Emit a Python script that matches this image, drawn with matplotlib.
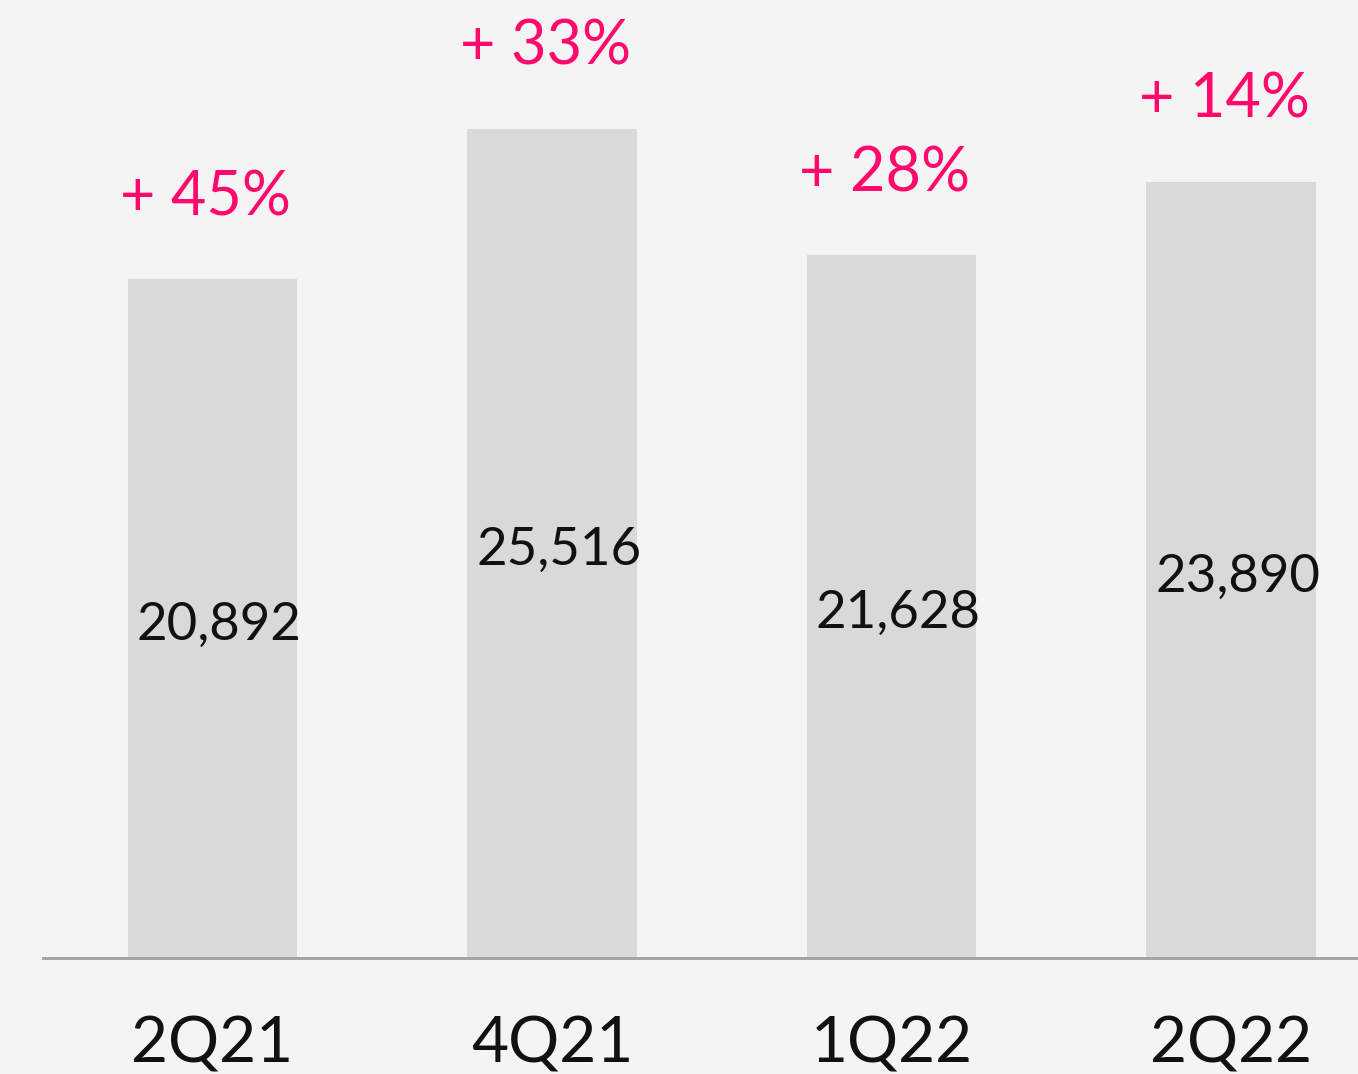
import matplotlib
matplotlib.use("Agg")
import matplotlib.pyplot as plt

# ── Data ─────────────────────────────────────────────────────────────────────
quarters = ["2Q21", "4Q21", "1Q22", "2Q22"]
values = [20892, 25516, 21628, 23890]
growth = ["+ 45%", "+ 33%", "+ 28%", "+ 14%"]

BG = "#f4f4f4"
BAR = "#d9d9d9"
PINK = "#ff0a6c"

plt.rcParams["font.family"] = ["Lato", "DejaVu Sans"]

fig = plt.figure(figsize=(13.58, 10.74), dpi=100, facecolor=BG)
ax = fig.add_axes([0, 0, 1, 1], facecolor=BG)

x = list(range(len(quarters)))
ax.bar(x, values, width=0.5, color=BAR, zorder=1)

for xi, v, g in zip(x, values, growth):
    ax.text(xi + 0.02, v / 2 - 220, f"{v:,}", ha="center", va="center",
            fontsize=38, color="#111111")
    ax.text(xi - 0.02, v + 2500, g, ha="center", va="center",
            fontsize=44, color=PINK)
    ax.text(xi, -2650, quarters[xi], ha="center", va="center",
            fontsize=46, color="#111111")

ax.plot([-0.5, 3.5], [0, 0], color="#a0a0a0", lw=2, zorder=2)

ax.set_xlim(-0.626, 3.374)
ax.set_ylim(-3569, 29477)
ax.axis("off")

fig.savefig("out.png", dpi=100, facecolor=BG)
